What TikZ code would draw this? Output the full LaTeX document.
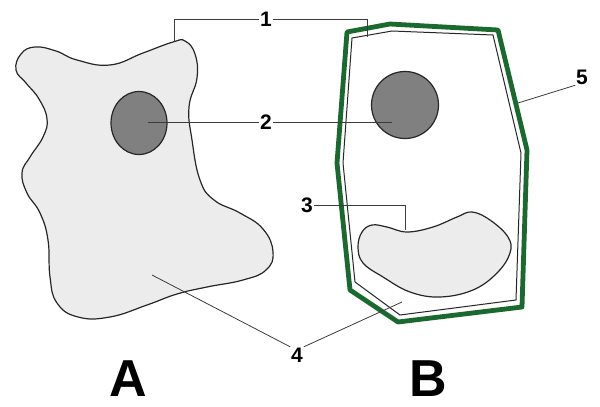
\documentclass[tikz,border=0pt]{standalone}
\usepackage{fontspec}
\setmainfont{Liberation Sans}
\usepackage{xcolor}

\definecolor{wallgreen}{RGB}{26,106,48}
\definecolor{cytogray}{RGB}{236,236,236}
\definecolor{nucgray}{RGB}{128,128,128}
\definecolor{leadgray}{RGB}{60,60,60}

\begin{document}
\begin{tikzpicture}[x=1pt,y=1pt,yscale=-1,xscale=1,
  num/.style={font=\fontsize{21}{21}\selectfont\bfseries,inner sep=0.75pt},
  bigletter/.style={font=\fontsize{52}{52}\selectfont\bfseries,inner sep=0pt},
  leader/.style={draw=leadgray,line width=0.8pt},
  outline/.style={draw=black!85,line width=1.2pt}]
\useasboundingbox (0,0) rectangle (600,407);

%Shape: Cell A
\draw [outline,fill=cytogray] plot [smooth cycle,tension=0.75] coordinates {
  (16,70) (21,54) (35,47) (56,51) (77,60) (110,65) (143,53) (173,42) (185,41)
  (195,54) (197,78) (189,107) (192,140) (200,180) (214,200) (240,213)
  (263,229) (273,252) (266,270) (243,280) (207,287) (177,294) (147,305)
  (110,317) (78,317) (57,303) (50,277) (48,240) (40,213) (27,193) (22,173)
  (30,157) (43,137) (47,119) (39,99) (26,83)};
%Shape: Nucleus A
\draw [outline,fill=nucgray] (139,123) ellipse [x radius=28,y radius=31.5];
\coordinate (nucA) at (148,122);
\coordinate (memA) at (174,42);
\coordinate (cytA) at (152,275);

%Shape: Cell wall B
\draw [draw=wallgreen,line width=4.8pt,line join=round,fill=white]
  (347,32) -- (390,24) -- (498,30) -- (527,150) -- (522,307) -- (398,322)
  -- (350,290) -- (337,163) -- cycle;
%Shape: Membrane B
\draw [outline,line width=1pt]
  (352,38) -- (392,31) -- (493,35) -- (521,153) -- (516,300) -- (400,315)
  -- (355,282) -- (343,163) -- cycle;
%Shape: Nucleus B
\draw [outline,fill=nucgray] (405,105) circle [radius=33.5];
%Shape: Vacuole
\draw [outline,fill=cytogray] plot [smooth cycle,tension=0.65] coordinates {
  (372,225) (387,227) (407,232) (433,227) (457,217) (472,212) (490,220)
  (508,237) (510,253) (497,273) (473,290) (440,297) (410,292) (383,277)
  (363,263) (358,247) (362,232)};
\coordinate (nucB) at (392,122);
\coordinate (memB) at (367,37);
\coordinate (vacB) at (405,230);
\coordinate (cytB) at (402,302);
\coordinate (wallB) at (518,103);

% Text Node
\node [num] (l1) at (266,19) {1};
% Text Node
\node [num] (l2) at (266,122) {2};
% Text Node
\node [num] (l3) at (307,205) {3};
% Text Node
\node [num] (l4) at (297,355) {4};
% Text Node
\node [num] (l5) at (582,77) {5};
% Text Node
\node [bigletter] (la) at (128,379) {A};
% Text Node
\node [bigletter] (lb) at (428,379) {B};

%Leaders
\draw [leader] (l1.west) -| (memA);
\draw [leader] (l1.east) -| (memB);
\draw [leader] (l2.west) -- (nucA);
\draw [leader] (l2.east) -- (nucB);
\draw [leader] (l3.east) -| (vacB);
\draw [leader] (l4.north west) -- (cytA);
\draw [leader] (l4.north east) -- (cytB);
\draw [leader] (l5.south west) -- (wallB);

\end{tikzpicture}
\end{document}
